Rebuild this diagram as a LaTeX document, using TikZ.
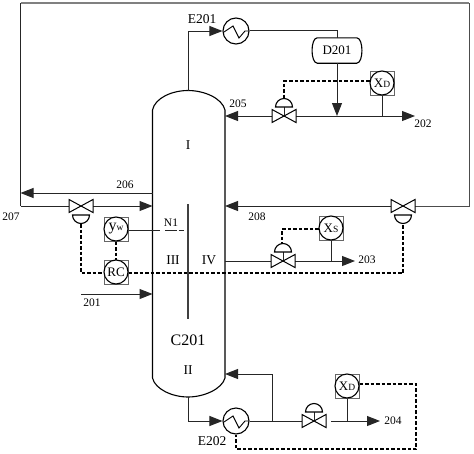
\documentclass[tikz,border=0pt]{standalone}
\usepackage{fontspec}
\setmainfont{Liberation Serif}
\usetikzlibrary{arrows.meta}
\definecolor{topgray}{gray}{0.5}
\tikzset{
  pipe/.style={draw=black!85,line width=1pt},
  flow/.style={pipe,-{Triangle[length=13pt,width=10pt]}},
  signal/.style={draw=black,line width=1.3pt,dash pattern=on 3.5pt off 2pt},
  lbl/.style={inner sep=0pt,font=\fontsize{11.5}{13}\selectfont},
  big/.style={inner sep=0pt,font=\fontsize{13.5}{15}\selectfont},
  mid/.style={inner sep=0pt,font=\fontsize{13}{14}\selectfont},
  instbox/.style={draw=black!60,line width=1pt,minimum size=24pt,inner sep=0pt},
  instcirc/.style={draw=black,fill=white,circle,line width=1.1pt,minimum size=24pt,inner sep=0pt,font=\fontsize{13}{14}\selectfont},
  hx/.style={draw=black,fill=white,circle,line width=1.1pt,minimum size=26pt,inner sep=0pt},
  pt/.style={inner sep=0pt,minimum size=0pt}
}
\newcommand{\valvesym}[1]{%
  \draw[line width=1pt,fill=white] (#1)++(-12,-6.5) -- ++(24,13) -- ++(0,-13) -- ++(-24,13) -- cycle;}
\newcommand{\domeup}[1]{%
  \draw[line width=1.1pt,fill=white] (#1)++(-8.5,0) arc[start angle=180,end angle=360,radius=8.5] -- cycle;}
\newcommand{\domedown}[1]{%
  \draw[line width=1.1pt,fill=white] (#1)++(-8.5,0) arc[start angle=180,end angle=0,radius=8.5] -- cycle;}
\newcommand{\zig}[1]{%
  \draw[line width=0.9pt] (#1)++(-12,1) -- ++(9,-6) -- ++(6,12) -- ++(6,-7) -- ++(4,0);}
\begin{document}
\begin{tikzpicture}[x=1pt,y=-1pt]
\useasboundingbox (0,0) rectangle (474,453);
% column
\node[pt] (coltop) at (188,91) {};
\node[pt] (colbot) at (188,397) {};
\draw[line width=1.1pt] (152.5,110) .. controls (155,98) and (172,90.5) .. (188,90.5) .. controls (204,90.5) and (222,98) .. (225,110)
  -- (225,378) .. controls (222,389) and (204,397) .. (188,397) .. controls (172,397) and (155,389) .. (152.5,378) -- cycle;
% baffle
\coordinate (bafa) at (188,204);
\coordinate (bafb) at (188,319);
\draw[line width=1.1pt,draw=black!75] (bafa) -- (bafb);
% column coordinates
\coordinate (L193) at (152.5,193);
\coordinate (L206) at (152.5,206);
\coordinate (L294) at (152.5,294);
\coordinate (R116) at (225,116);
\coordinate (R206) at (225,206);
\coordinate (R261) at (225,261);
\coordinate (R374) at (225,374);
% recycle line
\coordinate (c1) at (20.5,193);
\coordinate (c2) at (20.5,206);
\coordinate (c3) at (20.5,3);
\coordinate (c4) at (469,3);
\coordinate (c5) at (469,206);
\coordinate (f201) at (81,294);
% exchangers, vessel
\node[hx] (E1) at (236,31) {};
\node[hx] (E2) at (236,421) {};
% instruments
\node[minimum width=49pt,minimum height=25pt,inner sep=0pt,mid] (D) at (337,50.5) {D201};
\draw[line width=1.1pt] ([xshift=5pt]D.north west) -- ([xshift=-5pt]D.north east) .. controls ([xshift=2pt]D.north east) and ([xshift=2pt]D.south east) .. ([xshift=-5pt]D.south east) -- ([xshift=5pt]D.south west) .. controls ([xshift=-2pt]D.south west) and ([xshift=-2pt]D.north west) .. ([xshift=5pt]D.north west) -- cycle;
% valves
\coordinate (V205) at (284,116);
\coordinate (V207) at (81,206);
\coordinate (V208) at (403,206);
\coordinate (V203) at (283,261);
\coordinate (V204) at (314,421);
% instruments
\node[instbox] (XDb) at (382,83) {};
\node[instcirc] (XD) at (382,83) {X\fontsize{9.5}{10}\selectfont D};
\node[instbox] (XSb) at (331,228) {};
\node[instcirc] (XS) at (331,228) {X\fontsize{9.5}{10}\selectfont S};
\node[instbox] (YWb) at (116,229) {};
\node[instcirc] (YW) at (116,229) {\fontsize{16}{14}\selectfont y\fontsize{9.5}{10}\selectfont w};
\node[instbox] (RCb) at (116,272) {};
\node[instcirc] (RC) at (116,272) {RC};
\node[instbox] (XBb) at (347,386) {};
\node[instcirc] (XB) at (347,386) {X\fontsize{9.5}{10}\selectfont D};
% top section
\coordinate (a1) at (188,31);
\draw[pipe] (coltop) -- (a1);
\draw[flow] (a1) -- (E1.west);
\coordinate (a2) at (337,30.5);
\draw[pipe] (E1.east |- a2) -- (a2) -- (D.north);
\coordinate (j1) at (337,116);
\draw[flow] (D.south) -- (j1);
\coordinate (end202) at (415,116);
\draw[flow] (V205) -- (end202);
\draw[flow] (V205) -- (R116);
\coordinate (j2) at (382,116);
\draw[pipe] (XDb.south) -- (j2);
\coordinate (s1) at (284,81);
\draw[signal] (XDb.west |- s1) -- (s1) -- (284,98);
\draw[pipe] (V205) -- (284,107);
\valvesym{V205}
\domeup{284,107}
% left
\draw[flow] (L193) -- (c1);
\draw[draw=topgray,line width=1.6pt] (c3) -- (c4);
\draw[pipe] (c3) -- (c2);
\draw[flow] (c2) -- (L206);
\valvesym{V207}
\domedown{81,215}
\coordinate (s2) at (81,273);
\draw[signal] (81,224) -- (s2) -- (RCb.west |- s2);
\draw[signal] (YWb.south) -- (RCb.north);
\coordinate (s3) at (403,273);
\draw[signal] (RCb.east |- s3) -- (s3) -- (403,224);
\draw[pipe] (YWb.east |- 0,230) -- (160,230);
\draw[pipe,dash pattern=on 11.5pt off 2pt on 7pt off 9pt] (165,230) -- (184,230);
\draw[flow] (f201) -- (L294);
% right recycle
\draw[pipe,draw=black!70] (c4) -- (c5) -- (V208);
\draw[flow] (V208) -- (R206);
\valvesym{V208}
\domedown{403,215}
% 203
\draw[pipe] (R261) -- (V203);
\coordinate (end203) at (355,261);
\draw[flow] (V203) -- (end203);
\coordinate (j3) at (331,261);
\draw[pipe] (XSb.south) -- (j3);
\coordinate (s4) at (282,229);
\draw[signal,line width=1.1pt] (XSb.west |- s4) -- (s4) -- (282,244);
\draw[pipe] (V203) -- (283,252);
\valvesym{V203}
\domeup{283,252}
% bottom
\coordinate (b1) at (188,421);
\draw[pipe] (colbot) -- (b1);
\draw[flow] (b1) -- (E2.west);
\coordinate (b2) at (272,421);
\coordinate (b3) at (272,374);
\draw[pipe] (E2.east) -- (V204);
\draw[pipe] (b2) -- (b3);
\draw[flow] (b3) -- (R374);
\draw[pipe] (V204) -- (314,412);
\valvesym{V204}
\domeup{314,412}
\coordinate (b4) at (331,421);
\coordinate (end204) at (380,421);
\draw[flow] (b4) -- (end204);
\coordinate (j4) at (347,421);
\draw[pipe] (XBb.south) -- (j4);
\coordinate (s5) at (416,384);
\coordinate (s6) at (416,449);
\coordinate (s7) at (236,449);
\draw[signal] (XBb.east |- s5) -- (s5) -- (s6) -- (s7) -- (E2.south);
\zig{E1}
\zig{E2}
% labels
\node[big] (tE1) at (202,19) {E201};
\node[big] (tE2) at (212,441) {E202};
\node[lbl] (t205) at (238,104) {205};
\node[lbl] (t202) at (423,124) {202};
\node[lbl] (t206) at (125,185) {206};
\node[lbl] (t207) at (11,217) {207};
\node[lbl] (t208) at (257,217) {208};
\node[lbl] (t203) at (367,260) {203};
\node[lbl] (t201) at (92,303) {201};
\node[lbl] (t204) at (393,421) {204};
\node[lbl] (tN1) at (171,223) {N1};
\node[big] (tI) at (188,145) {I};
\node[big] (tIII) at (173,260) {III};
\node[big] (tIV) at (209,260) {IV};
\node[big,font=\fontsize{16}{17}\selectfont] (tC) at (188,340) {C201};
\node[big] (tII) at (188,370) {II};
\end{tikzpicture}
\end{document}
